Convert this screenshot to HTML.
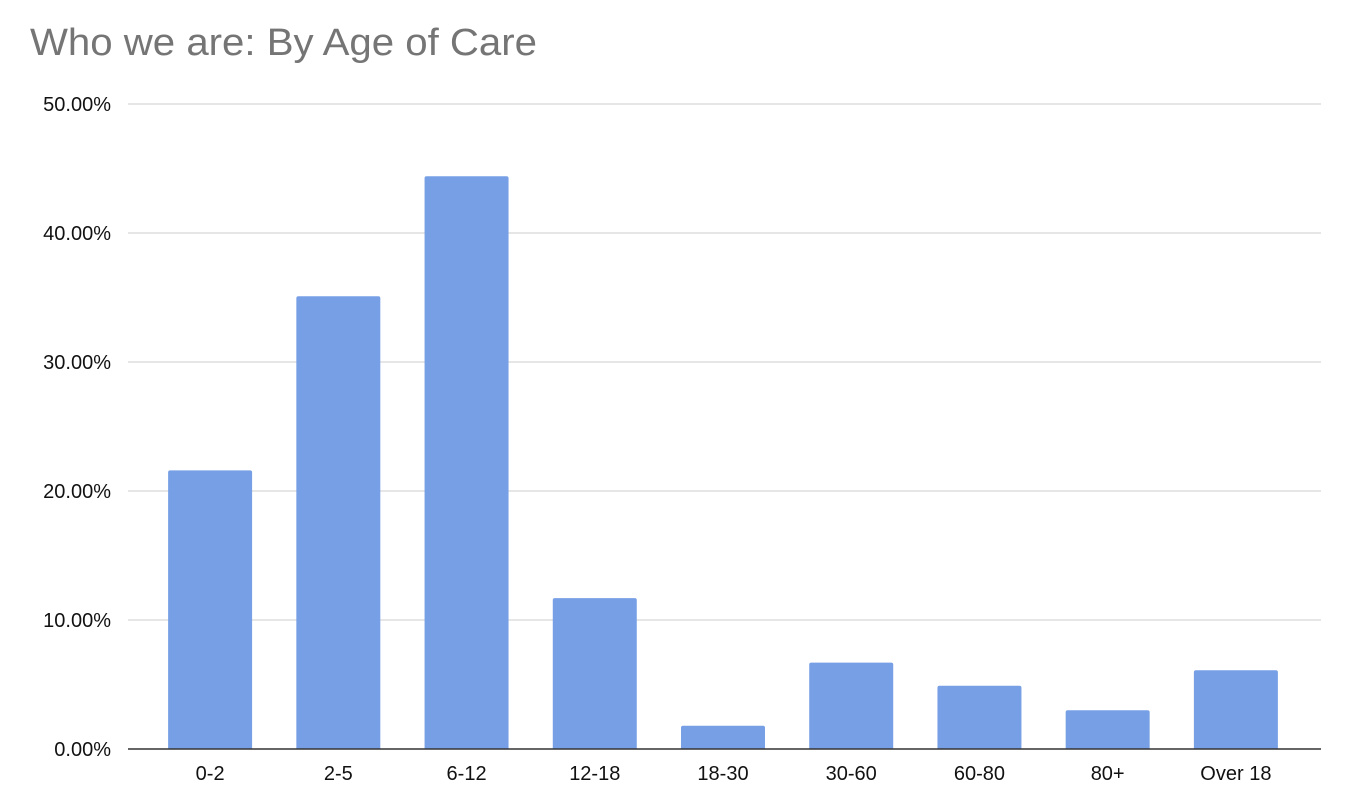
<!DOCTYPE html>
<html><head><meta charset="utf-8">
<style>
html,body{margin:0;padding:0;background:#fff;width:1348px;height:808px;overflow:hidden}
svg{display:block;font-family:"Liberation Sans",Arial,sans-serif}
</style></head>
<body>
<svg id="chart" width="1348" height="808">
<text x="30" y="55" font-size="38" textLength="507" lengthAdjust="spacingAndGlyphs" fill="#757575">Who we are: By Age of Care</text>
<g id="grid"></g><g id="bars"></g><g id="xl"></g><g id="yl"></g>
<line x1="128" x2="1321" y1="749" y2="749" stroke="#333" stroke-width="1.5"/>
</svg>
<script>
const categories=["0-2","2-5","6-12","12-18","18-30","30-60","60-80","80+","Over 18"];
const values=[21.6,35.1,44.4,11.7,1.8,6.7,4.9,3.0,6.1];
const yTicks=[0,10,20,30,40,50];
const yTickLabels=["0.00%","10.00%","20.00%","30.00%","40.00%","50.00%"];
const NS="http://www.w3.org/2000/svg";
const y0=749,y1=104,yMax=50,px0=146,px1=1300;
const yScale=v=>y0-(v/yMax)*(y0-y1);
const band=(px1-px0)/categories.length;
const xCenter=i=>px0+band*(i+0.5);
const bw=band*0.655;
function mk(t,a){const e=document.createElementNS(NS,t);for(const k in a)e.setAttribute(k,a[k]);return e;}
const grid=document.getElementById('grid'),yl=document.getElementById('yl');
yTicks.forEach((t,i)=>{
  if(t>0){const l=mk('line',{x1:128,x2:1321,y1:yScale(t),y2:yScale(t),stroke:'#ccc','stroke-width':1});
  
  
  grid.appendChild(l);}
  const tx=mk('text',{x:111,y:yScale(t)+7,'text-anchor':'end','font-size':20,fill:'#111'});
  tx.textContent=yTickLabels[i];
  
  
  yl.appendChild(tx);
});
const bars=document.getElementById('bars'),xl=document.getElementById('xl');
values.forEach((v,i)=>{
  const top=yScale(v),h=y0-top,x=xCenter(i)-bw/2,r=Math.min(2,h);
  const p=mk('path',{d:`M${x},${y0}V${top+r}Q${x},${top} ${x+r},${top}H${x+bw-r}Q${x+bw},${top} ${x+bw},${top+r}V${y0}Z`,fill:'#779fe5'});
  
  
  bars.appendChild(p);
  const tx=mk('text',{x:xCenter(i),y:780,'text-anchor':'middle','font-size':20,fill:'#111'});
  tx.textContent=categories[i];
  
  
  xl.appendChild(tx);
});
</script>
</body></html>
